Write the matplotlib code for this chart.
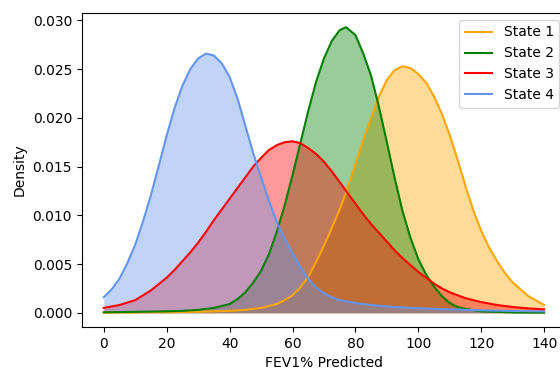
import matplotlib
matplotlib.use("Agg")
import matplotlib.pyplot as plt

labels = ["State 1", "State 2", "State 3", "State 4"]
colors = ["orange", "green", "red", "cornflowerblue"]

# State 1
x1 = [0, 20, 30, 40, 45, 50, 55, 57.5, 60, 62.5, 65, 67.5, 70, 72.5, 75, 77.5,
      80, 82.5, 85, 87.5, 90, 92.5, 95, 97.5, 100, 102.5, 105, 107.5, 110,
      112.5, 115, 117.5, 120, 122.5, 125, 127.5, 130, 135, 140]
y1 = [0.00002, 0.00007, 0.0001, 0.0002, 0.0003, 0.0005, 0.0009, 0.0013, 0.0018,
      0.0026, 0.0037, 0.0052, 0.0069, 0.0087, 0.0106, 0.0128, 0.0152, 0.0177,
      0.0200, 0.0222, 0.0239, 0.0249, 0.0253, 0.0251, 0.0245, 0.0236, 0.0222,
      0.0204, 0.0182, 0.0157, 0.0130, 0.0105, 0.0084, 0.0067, 0.0053, 0.0041,
      0.0031, 0.0017, 0.0008]

# State 2
x2 = [0, 10, 20, 25, 30, 35, 40, 42.5, 45, 47.5, 50, 52.5, 55, 57.5, 60, 62.5,
      65, 67.5, 70, 72.5, 75, 77, 80, 82.5, 85, 87.5, 90, 92.5, 95, 97.5, 100,
      102.5, 105, 107.5, 110, 112.5, 115, 120, 130, 140]
y2 = [0.00005, 0.0001, 0.00015, 0.0002, 0.0003, 0.0005, 0.0009, 0.0014, 0.0021,
      0.0031, 0.0043, 0.0060, 0.0083, 0.0110, 0.0141, 0.0174, 0.0207, 0.0237,
      0.0261, 0.0279, 0.0290, 0.0293, 0.0285, 0.0266, 0.0243, 0.0211, 0.0175,
      0.0138, 0.0104, 0.0077, 0.0055, 0.0039, 0.0027, 0.0017, 0.0010, 0.0006,
      0.0004, 0.00015, 0.00004, 0.00001]

# State 3
x3 = [0, 5, 10, 15, 20, 22.5, 25, 27.5, 30, 32.5, 35, 37.5, 40, 42.5, 45, 47.5,
      50, 52.5, 55, 57.5, 60, 62.5, 65, 67.5, 70, 72.5, 75, 77.5, 80, 82.5, 85,
      87.5, 90, 92.5, 95, 97.5, 100, 102.5, 105, 107.5, 110, 112.5, 115, 120,
      125, 130, 135, 140]
y3 = [0.0005, 0.0008, 0.0013, 0.0023, 0.0036, 0.0044, 0.0053, 0.0062, 0.0072,
      0.0083, 0.0095, 0.0106, 0.0117, 0.0128, 0.0139, 0.0150, 0.0159, 0.0167,
      0.0172, 0.0175, 0.0176, 0.0174, 0.0169, 0.0163, 0.0155, 0.0145, 0.0134,
      0.0123, 0.0112, 0.0101, 0.0091, 0.0082, 0.0073, 0.0064, 0.0056, 0.0049,
      0.0042, 0.0036, 0.0030, 0.0025, 0.0021, 0.0018, 0.0015, 0.0011, 0.0008,
      0.0006, 0.00045, 0.00035]

# State 4
x4 = [0, 2.5, 5, 7.5, 10, 12.5, 15, 17.5, 20, 22.5, 25, 27.5, 30, 32.5, 35,
      37.5, 40, 42.5, 45, 47.5, 50, 52.5, 55, 57.5, 60, 62.5, 65, 67.5, 70,
      72.5, 75, 80, 85, 90, 95, 100, 110, 120, 130, 140]
y4 = [0.0016, 0.0024, 0.0035, 0.0051, 0.0070, 0.0094, 0.0121, 0.0151, 0.0182,
      0.0210, 0.0233, 0.0250, 0.0261, 0.0266, 0.0264, 0.0256, 0.0242, 0.0220,
      0.0192, 0.0164, 0.0139, 0.0115, 0.0093, 0.0076, 0.0061, 0.0047, 0.0035,
      0.0026, 0.0020, 0.0016, 0.0013, 0.0010, 0.0008, 0.00065, 0.00055,
      0.00047, 0.00035, 0.00026, 0.00019, 0.00014]

series = [(x1, y1), (x2, y2), (x3, y3), (x4, y4)]

fig = plt.figure(figsize=(5.6, 3.7), dpi=100)
ax = fig.add_axes([0.146, 0.116, 0.865, 0.849])
for (xs, ys), c, lab in zip(series, colors, labels):
    ax.plot(xs, ys, color=c, lw=1.5, label=lab)
    ax.fill_between(xs, ys, color=c, alpha=0.4, lw=0)

ax.set_xticks(range(0, 141, 20))
ax.set_xlabel("FEV1% Predicted")
ax.set_ylabel("Density")
ax.legend(loc="upper right")
fig.savefig("out.png", dpi=100)
